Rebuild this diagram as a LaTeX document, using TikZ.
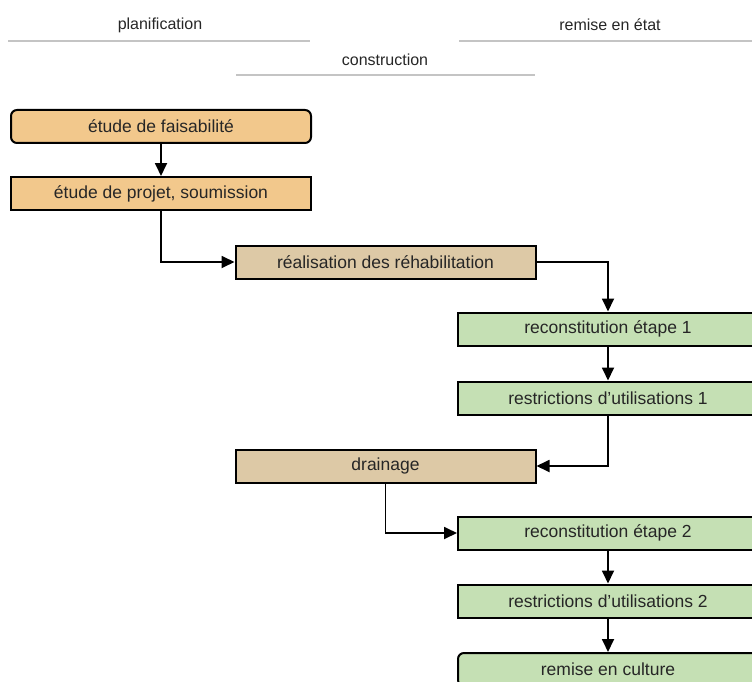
\documentclass[tikz,border=0pt]{standalone}
\usepackage{fontspec}
\setmainfont{Liberation Sans}
\usetikzlibrary{arrows.meta}
\definecolor{orangefill}{HTML}{F2C88C}
\definecolor{tanfill}{HTML}{DDC9A6}
\definecolor{greenfill}{HTML}{C5E0B4}
\definecolor{headline}{HTML}{C4C4C4}
\tikzset{
  box/.style={draw=black, line width=2pt, minimum width=300pt, minimum height=33pt, inner sep=0pt, font=\fontsize{17.5}{20}\selectfont, text=black!85},
  plan/.style={box, fill=orangefill},
  constr/.style={box, fill=tanfill},
  remise/.style={box, fill=greenfill},
  rnd/.style={rounded corners=6pt},
  conn/.style={draw=black, line width=1.8pt, -{Triangle[length=13pt,width=12pt]}},
  head/.style={font=\fontsize{16}{19}\selectfont, text=black!85},
  hline/.style={draw=headline, line width=2.5pt}
}
\begin{document}
\begin{tikzpicture}[x=1pt,y=-1pt]
\useasboundingbox (0,0) rectangle (752,682);
\clip (0,0) rectangle (752,682);
% headers
\node[head] (hplan) at (160,25) {planification};
\node[head] (hrem) at (610,25) {remise en état};
\node[head] (hcon) at (385,60) {construction};
\draw[hline] (8,41) -- (310,41);
\draw[hline] (459,41) -- (760,41);
\draw[hline] (236,75) -- (535,75);
% boxes
\node[plan, rnd] (b1) at (161,126.5) {étude de faisabilité};
\node[plan] (b2) at (161,193.5) {étude de projet, soumission};
\node[constr] (b3) at (385.5,262) {réalisation des réhabilitation};
\node[remise] (b4) at (608,329) {reconstitution étape 1};
\node[remise] (b5) at (608,398) {restrictions d’utilisations 1};
\node[constr] (b6) at (385.5,466) {drainage};
\node[remise] (b7) at (608,533) {reconstitution étape 2};
\node[remise] (b8) at (608,601) {restrictions d’utilisations 2};
\node[remise, rnd] (b9) at (608,669.5) {remise en culture};
% connectors
\draw[conn] (b1) -- (b2);
\draw[conn] (b2.south) |- (b3.west);
\draw[conn] (b3.east) -| (b4.north);
\draw[conn] (b4) -- (b5);
\draw[conn] (b5.south) |- (b6.east);
\draw[conn] (b6.south) |- (b7.west);
\draw[conn] (b7) -- (b8);
\draw[conn] (b8) -- (b9);
\end{tikzpicture}
\end{document}
